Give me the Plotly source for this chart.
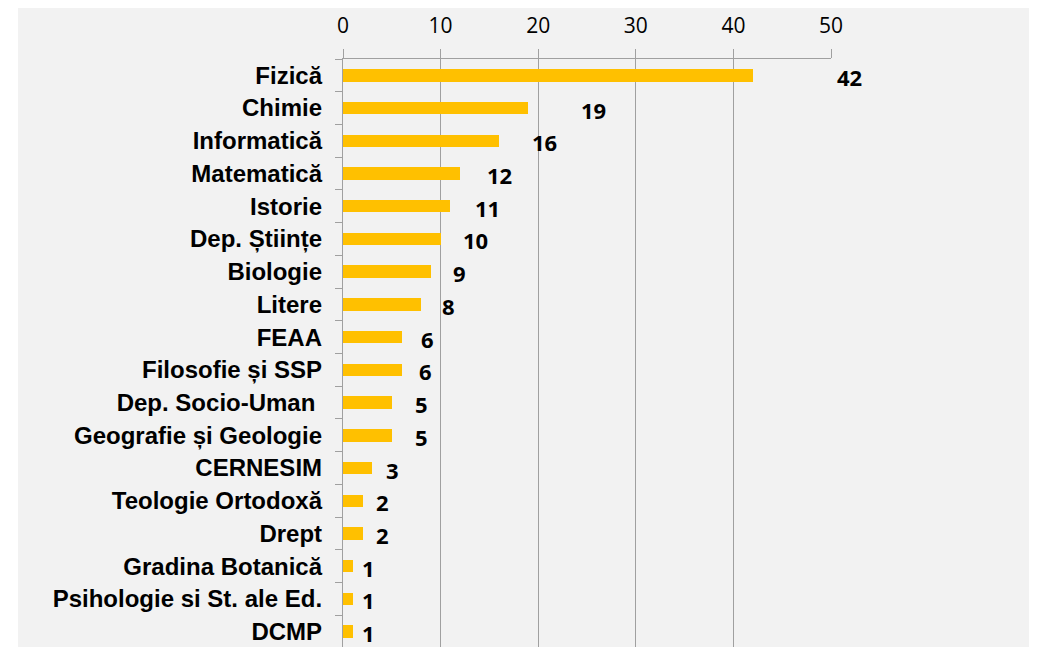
import plotly.graph_objects as go

# ---- data ----
categories = [
    "Fizică", "Chimie", "Informatică", "Matematică", "Istorie", "Dep. Științe",
    "Biologie", "Litere", "FEAA", "Filosofie și SSP", "Dep. Socio-Uman\u00a0",
    "Geografie și Geologie", "CERNESIM", "Teologie Ortodoxă", "Drept",
    "Gradina Botanică", "Psihologie si St. ale Ed.", "DCMP",
]
values = [42, 19, 16, 12, 11, 10, 9, 8, 6, 6, 5, 5, 3, 2, 2, 1, 1, 1]
x_ticks = [0, 10, 20, 30, 40, 50]

# ---- style ----
label_dx = [97, 65, 45, 39, 37, 35, 29, 27, 26, 24, 30, 30, 20, 20, 20, 16, 16, 16]
BAR_COLOR = "#FFC000"
GRID = "#A0A0A0"
BG = "#F2F2F2"
OFF = 8  # default page body margin
W, H = 1038 - OFF, 647 - OFF
ML, MR, MT, MB = 343 - OFF, 207, 59 - OFF, 0
PW, PH = W - ML - MR, H - MT - MB


def xp(px):
    return (px - OFF - ML) / PW


def yp(py):
    return (H - MB - (py - OFF)) / PH


fig = go.Figure()
fig.add_trace(go.Bar(
    x=values, y=categories, orientation="h",
    marker=dict(color=BAR_COLOR, line=dict(width=0)),
    width=0.38, hoverinfo="x+y",
))

for c, v, dx in zip(categories, values, label_dx):
    fig.add_annotation(
        x=v, y=c, text=str(v), showarrow=False, xanchor="center", yanchor="middle",
        xshift=dx, yshift=-1.5,
        font=dict(family="Open Sans", size=22, color="#000000", weight="bold"),
    )

fig.add_shape(type="rect", xref="paper", yref="paper",
              x0=xp(18), x1=xp(1029), y0=yp(647) - 0.01, y1=yp(6),
              fillcolor=BG, line=dict(width=0), layer="below")

fig.update_layout(
    width=W, height=H,
    margin=dict(l=ML, r=MR, t=MT, b=MB, pad=0, autoexpand=False),
    paper_bgcolor="white", plot_bgcolor="rgba(0,0,0,0)",
    showlegend=False, bargap=0,
    xaxis=dict(
        side="top", range=[0, 50], tickvals=x_ticks, ticktext=[str(t) for t in x_ticks],
        automargin=False,
        showgrid=True, gridcolor=GRID, gridwidth=1.3,
        showline=True, linecolor=GRID, linewidth=1.3,
        ticks="outside", ticklen=9, tickcolor=GRID, tickwidth=1.3,
        zeroline=False, ticklabelstandoff=7,
        tickfont=dict(family="Open Sans", size=21, color="#000000"),
    ),
    yaxis=dict(
        type="category", categoryorder="array", categoryarray=categories,
        range=[17.47, -0.5], tickson="boundaries", automargin=False,
        showgrid=False, showline=True, linecolor=GRID, linewidth=1.3,
        ticks="outside", ticklen=7, tickcolor=GRID, tickwidth=1.3,
        ticklabelstandoff=15, zeroline=False,
        tickfont=dict(family="Liberation Sans", size=24, color="#000000", weight="bold"),
    ),
)

fig.write_html("out.html")
